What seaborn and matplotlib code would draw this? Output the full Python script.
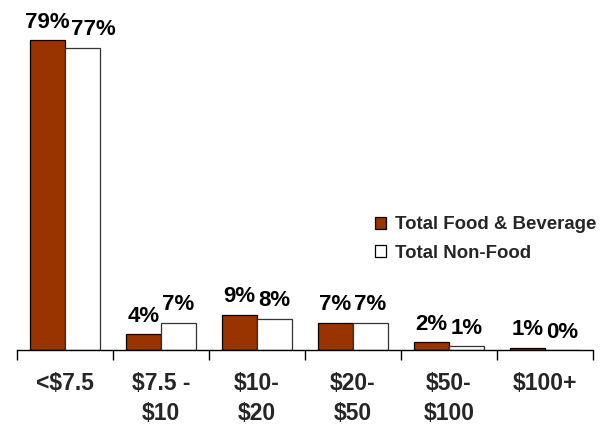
import matplotlib
matplotlib.use("Agg")
import matplotlib.pyplot as plt
import seaborn as sns
import pandas as pd

categories = ["<$7.5", "$7.5 -\n$10", "$10-\n$20", "$20-\n$50", "$50-\n$100", "$100+"]
series = ["Total Food & Beverage", "Total Non-Food"]
food = [79, 4, 9, 7, 2, 0.6]
nonfood = [77, 7, 8, 7, 0.9, 0]
colors = ["#993300", "#FFFFFF"]

df = pd.DataFrame({
    "cat": categories * 2,
    "series": [series[0]] * len(categories) + [series[1]] * len(categories),
    "val": food + nonfood,
})

sns.set_theme(style="white")
plt.rcParams["font.family"] = ["Liberation Sans", "DejaVu Sans"]
plt.rcParams["font.weight"] = "bold"

W, H = 609, 425
fig = plt.figure(figsize=(W / 100, H / 100), dpi=100)
ymax = 85
px_per = 3.924
base = 350
top_px = base - ymax * px_per
ax = fig.add_axes([17 / W, 1 - base / H, (593 - 17) / W, (base - top_px) / H])

sns.barplot(data=df, x="cat", y="val", hue="series", order=categories,
            hue_order=series, palette=colors, width=0.73, ax=ax,
            edgecolor="black", linewidth=0.9, saturation=1)

for patch in ax.containers[1]:
    patch.set_edgecolor("#333333")

ax.set_ylim(0, ymax)
ax.set_xlim(-0.5, len(categories) - 0.5)
ax.set_xlabel("")
ax.set_ylabel("")
ax.set_yticks([])
for s in ["top", "right", "left"]:
    ax.spines[s].set_visible(False)
ax.spines["bottom"].set_color("black")
ax.spines["bottom"].set_linewidth(1)

ax.set_xticks(range(len(categories)))
ax.set_xticklabels(categories)
ax.tick_params(axis="x", which="major", length=0, pad=16, bottom=True)
ax.set_xticks([i - 0.5 for i in range(len(categories) + 1)], minor=True)
ax.tick_params(axis="x", which="minor", length=7, width=1, color="black",
               direction="out", bottom=True)
for lab in ax.get_xticklabels():
    lab.set_fontfamily("Liberation Sans")
    lab.set_fontweight("bold")
    lab.set_fontsize(16.5)
    lab.set_linespacing(1.4)
    lab.set_verticalalignment("top")

nudges = {(1, 0): 8}
for si, cont in enumerate(ax.containers):
    for ci, patch in enumerate(cont):
        v = patch.get_height()
        x = patch.get_x() + patch.get_width() / 2
        ax.annotate(f"{v:.0f}%", (x, v), xytext=(nudges.get((si, ci), 0), 9),
                    textcoords="offset points", ha="center", va="baseline",
                    fontsize=16, fontweight="bold", fontfamily="Liberation Sans",
                    color="black")

handles, labels = ax.get_legend_handles_labels()
leg = ax.legend(handles, labels, loc="center left",
                bbox_to_anchor=(375 / W, 1 - 239 / H), bbox_transform=fig.transFigure,
                frameon=False, prop={"family": "Liberation Sans", "weight": "bold", "size": 13.4},
                handlelength=0.6, handleheight=0.6,
                handletextpad=0.45, labelspacing=0.6, borderaxespad=0, borderpad=0)
for h in leg.legend_handles:
    h.set_edgecolor("black")
    h.set_linewidth(0.9)

fig.savefig("out.png", dpi=100, facecolor="white")
